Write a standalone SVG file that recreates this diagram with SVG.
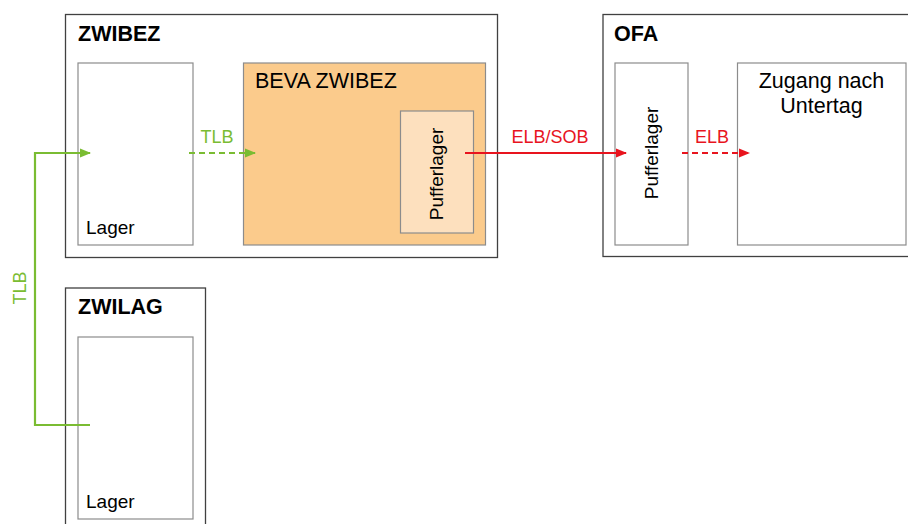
<svg xmlns="http://www.w3.org/2000/svg" width="908" height="524" viewBox="0 0 908 524">
<defs>
<style>
.outer{fill:#fff;stroke:#404040;stroke-width:1.3}
.inner{fill:#fff;stroke:#8c8c8c;stroke-width:1.2}
.t{font-family:"Liberation Sans",Arial,sans-serif;fill:#000}
.b{font-weight:bold;font-size:21.5px}
.g{stroke:#7ABC32;stroke-width:2.2;fill:none}
.r{stroke:#E8141E;stroke-width:2.2;fill:none}
.dash{stroke-dasharray:6,4}
</style>
<marker id="ag" markerWidth="11" markerHeight="11" refX="10" refY="5.5" orient="auto" markerUnits="userSpaceOnUse"><path d="M0,1 L11,5.5 L0,10 Z" fill="#7ABC32"/></marker>
<marker id="ar" markerWidth="11" markerHeight="11" refX="10" refY="5.5" orient="auto" markerUnits="userSpaceOnUse"><path d="M0,1 L11,5.5 L0,10 Z" fill="#E8141E"/></marker>
</defs>
<rect width="908" height="524" fill="#fff"/>
<g id="zwibez">
<rect class="outer" x="65.5" y="14.5" width="432" height="243"/>
<text class="t b" x="78" y="41">ZWIBEZ</text>
</g>
<g id="lager1">
<rect class="inner" x="78" y="63" width="115" height="182"/>
<text class="t" x="86" y="234" font-size="19">Lager</text>
</g>
<g id="beva">
<rect x="243.5" y="63" width="242" height="182" fill="#FBCB8C" stroke="#8c8c8c" stroke-width="1.2"/>
<text class="t" x="255" y="88" font-size="21.5">BEVA ZWIBEZ</text>
</g>
<g id="puffer1">
<rect x="400.5" y="111" width="73" height="122" fill="#FDE0BE" stroke="#8c8c8c" stroke-width="1.2"/>
<text class="t" font-size="19" text-anchor="middle" transform="translate(443,174) rotate(-90)">Pufferlager</text>
</g>
<g id="ofa">
<rect class="outer" x="603" y="14.5" width="310" height="242"/>
<text class="t b" x="614" y="41">OFA</text>
</g>
<g id="puffer2">
<rect class="inner" x="615" y="63" width="73" height="182"/>
<text class="t" font-size="19" text-anchor="middle" transform="translate(658,153) rotate(-90)">Pufferlager</text>
</g>
<g id="zugang">
<rect class="inner" x="737.5" y="63" width="168.5" height="182"/>
<text class="t" font-size="21.5" text-anchor="middle" x="821.5" y="88">Zugang nach</text>
<text class="t" font-size="21.5" text-anchor="middle" x="821.5" y="113">Untertag</text>
</g>
<g id="zwilag">
<rect class="outer" x="65.5" y="288" width="140" height="250"/>
<text class="t b" x="78" y="314">ZWILAG</text>
</g>
<g id="lager2">
<rect class="inner" x="78" y="337" width="115" height="182"/>
<text class="t" x="86" y="508" font-size="19">Lager</text>
</g>
<g id="connectors">
<path class="g" d="M90,425 H35 V153 H90" marker-end="url(#ag)"/>
<path class="g dash" d="M189,153 H255" marker-end="url(#ag)"/>
<path class="r" d="M465,153 H626" marker-end="url(#ar)"/>
<path class="r dash" d="M682,153 H749" marker-end="url(#ar)"/>
<text class="t" x="217" y="143" font-size="18" style="fill:#7ABC32" text-anchor="middle">TLB</text>
<text class="t" font-size="18" style="fill:#7ABC32" text-anchor="middle" transform="translate(26,288) rotate(-90)">TLB</text>
<text class="t" x="550" y="143" font-size="18" style="fill:#E8141E" text-anchor="middle">ELB/SOB</text>
<text class="t" x="712" y="143" font-size="18" style="fill:#E8141E" text-anchor="middle">ELB</text>
</g>
</svg>
